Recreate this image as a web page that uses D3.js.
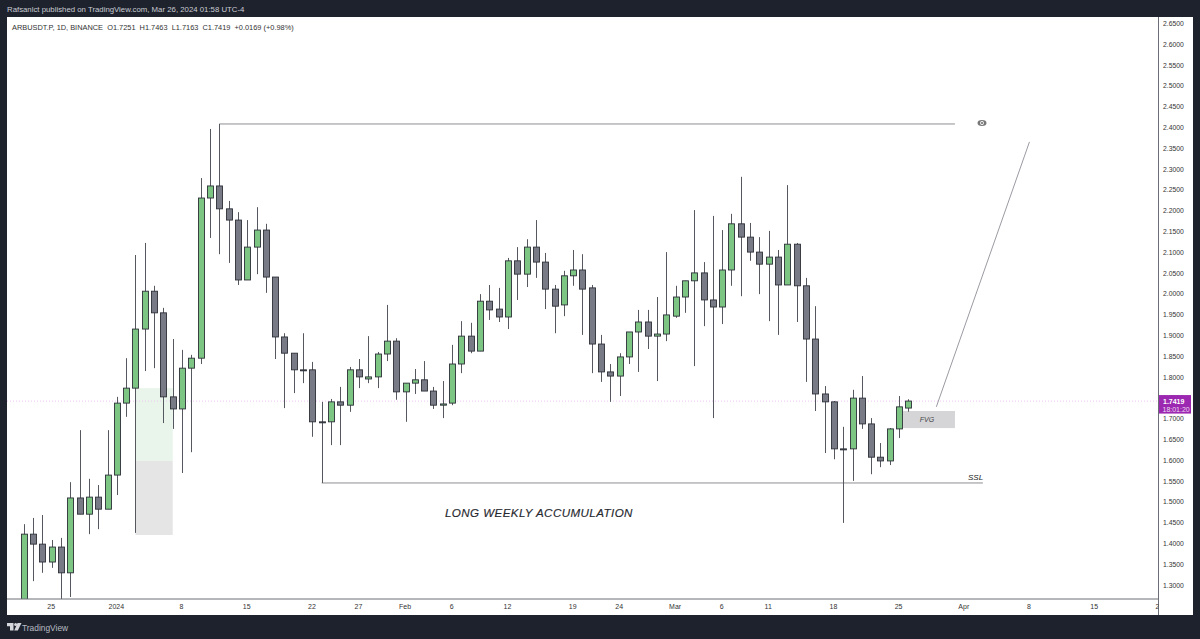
<!DOCTYPE html>
<html><head><meta charset="utf-8">
<script src="https://cdn.jsdelivr.net/npm/d3@7"></script>
<style>html,body{margin:0;padding:0;background:#1e222d;overflow:hidden}svg{display:block}text{font-family:"Liberation Sans",Arial,sans-serif}</style>
</head><body><svg id="c" width="1200" height="639"></svg>
<script>
const firstDay = "2023-12-22";
const opens  = [1.240,1.422,1.398,1.355,1.391,1.329,1.509,1.470,1.511,1.482,1.564,1.737,1.773,1.915,2.006,1.954,1.752,1.723,1.821,1.845,2.230,2.259,2.204,2.177,2.033,2.112,2.153,2.040,1.896,1.857,1.817,1.817,1.692,1.692,1.740,1.732,1.817,1.795,1.800,1.855,1.886,1.764,1.785,1.793,1.766,1.732,1.737,1.831,1.898,1.862,1.982,1.963,1.944,2.079,2.047,2.112,2.076,2.011,1.973,2.043,2.057,2.014,1.879,1.812,1.802,1.848,1.908,1.932,1.898,1.903,1.946,1.992,2.031,2.050,1.985,1.968,2.057,2.168,2.136,2.100,2.071,2.088,2.021,2.119,2.019,1.891,1.759,1.740,1.627,1.627,1.749,1.687,1.607,1.598,1.675,1.7251];
const highs  = [1.446,1.461,1.468,1.408,1.413,1.547,1.672,1.555,1.540,1.672,1.752,1.845,2.093,2.122,2.019,1.966,1.891,1.865,1.853,2.278,2.396,2.408,2.223,2.196,2.177,2.208,2.168,2.040,1.905,1.857,1.905,1.836,1.740,1.747,1.776,1.824,1.843,1.898,1.860,1.973,1.893,1.785,1.819,1.838,1.776,1.790,1.877,1.934,1.930,1.999,2.021,2.014,2.086,2.112,2.131,2.177,2.098,2.021,2.055,2.105,2.095,2.021,1.901,1.831,1.857,1.908,1.961,1.961,1.992,2.100,2.019,2.031,2.201,2.076,2.187,2.153,2.192,2.281,2.170,2.136,2.151,2.105,2.261,2.122,2.038,1.970,1.778,1.742,1.680,1.769,1.802,1.701,1.641,1.677,1.754,1.7463];
const lows   = [1.168,1.309,1.329,1.341,1.240,1.271,1.470,1.422,1.434,1.482,1.516,1.704,1.425,1.814,1.821,1.689,1.675,1.569,1.619,1.831,2.134,2.095,2.074,2.021,2.033,2.047,2.002,1.843,1.725,1.761,1.785,1.656,1.545,1.636,1.636,1.716,1.773,1.785,1.773,1.838,1.745,1.692,1.759,1.766,1.723,1.701,1.732,1.809,1.857,1.862,1.937,1.932,1.915,1.985,2.016,2.038,1.963,1.905,1.946,2.019,1.901,1.809,1.788,1.740,1.754,1.831,1.812,1.867,1.790,1.886,1.942,1.954,1.826,1.922,1.701,1.927,2.019,1.994,2.079,1.999,1.934,1.901,2.021,1.932,1.788,1.718,1.617,1.602,1.449,1.550,1.675,1.566,1.583,1.588,1.653,1.7163];
const closes = [1.422,1.398,1.355,1.391,1.329,1.509,1.470,1.511,1.482,1.564,1.737,1.773,1.915,2.006,1.954,1.752,1.723,1.821,1.845,2.230,2.259,2.204,2.177,2.033,2.112,2.153,2.040,1.896,1.857,1.817,1.817,1.692,1.692,1.740,1.732,1.817,1.800,1.800,1.855,1.886,1.764,1.785,1.793,1.766,1.732,1.735,1.831,1.898,1.862,1.982,1.961,1.944,2.079,2.047,2.112,2.076,2.011,1.970,2.043,2.057,2.011,1.879,1.812,1.802,1.848,1.908,1.932,1.898,1.903,1.949,1.992,2.031,2.050,1.985,1.968,2.057,2.168,2.136,2.100,2.071,2.088,2.021,2.119,2.019,1.891,1.759,1.740,1.627,1.627,1.749,1.687,1.607,1.598,1.675,1.728,1.7419];

const priceTicks = d3.range(27, -1, -1).map(i => 1.30 + i * 0.05);
const timeTicks = [["2023-12-25","25"],["2024-01-01","2024"],["2024-01-08","8"],["2024-01-15","15"],["2024-01-22","22"],["2024-01-27","27"],["2024-02-01","Feb"],["2024-02-06","6"],["2024-02-12","12"],["2024-02-19","19"],["2024-02-24","24"],["2024-03-01","Mar"],["2024-03-06","6"],["2024-03-11","11"],["2024-03-18","18"],["2024-03-25","25"],["2024-04-01","Apr"],["2024-04-08","8"],["2024-04-15","15"],["2024-04-22","22"]];
const headerText = "Rafsanlct published on TradingView.com, Mar 26, 2024 01:58 UTC-4";
const legendText = "ARBUSDT.P, 1D, BINANCE  O1.7251  H1.7463  L1.7163  C1.7419  +0.0169 (+0.98%)";
const lastPrice = 1.7419, countdown = "18:01:20";
const topLine = {from:"2024-01-12", to:"2024-03-31", price:2.408};
const sslLine = {from:"2024-01-23", to:"2024-04-03", price:1.545};
const arrowLine = {from:"2024-03-29", fromP:1.728, to:"2024-04-08", toP:2.365};
const fvgZone = {from:"2024-03-25", to:"2024-03-31", top:1.718, bottom:1.677};
const longBox = {from:"2024-01-03", to:"2024-01-07", top:1.773, mid:1.598, bottom:1.420};

const parse = d3.utcParse("%Y-%m-%d");
const start = parse(firstDay);
const rows = closes.map((c,i)=>({date:d3.utcDay.offset(start,i),o:opens[i],h:highs[i],l:lows[i],c}));

const W=1200,H=639,L=7,R=1193,T=17,B=615,axisX=1158.5,axisY=599;
const x = d3.scaleUtc().domain([start,rows[95].date]).range([23.7,908.4]);
const y = d3.scaleLinear().domain([1.30,2.65]).range([584.9,23.3]);
const svg = d3.select("#c");
svg.append("rect").attr("width",W).attr("height",H).attr("fill","#1e222d");
svg.append("rect").attr("x",L).attr("y",T).attr("width",R-L).attr("height",B-T).attr("fill","#fff");
const defs = svg.append("defs");
defs.append("clipPath").attr("id","pane").append("rect").attr("x",L).attr("y",T).attr("width",axisX-L).attr("height",axisY-T);
defs.append("clipPath").attr("id","tx").append("rect").attr("x",L).attr("y",axisY).attr("width",axisX-L).attr("height",B-axisY);

const pane = svg.append("g").attr("clip-path","url(#pane)");
const xd = s => x(parse(s));

// position tool
pane.append("rect").attr("x",xd(longBox.from)).attr("width",xd(longBox.to)-xd(longBox.from)).attr("y",y(longBox.top)).attr("height",y(longBox.mid)-y(longBox.top)).attr("fill","#e9f5ea");
pane.append("rect").attr("x",xd(longBox.from)).attr("width",xd(longBox.to)-xd(longBox.from)).attr("y",y(longBox.mid)).attr("height",y(longBox.bottom)-y(longBox.mid)).attr("fill","#e5e5e5");
// last price line
pane.append("line").attr("x1",L).attr("x2",axisX).attr("y1",y(lastPrice)).attr("y2",y(lastPrice)).attr("stroke","#eec6f3").attr("stroke-dasharray","1 2");
// FVG
pane.append("rect").attr("x",xd(fvgZone.from)+4).attr("width",xd(fvgZone.to)-xd(fvgZone.from)-4).attr("y",y(fvgZone.top)).attr("height",y(fvgZone.bottom)-y(fvgZone.top)).attr("fill","#d5d5d8");
pane.append("text").attr("x",927).attr("y",y(1.698)+2.5).attr("text-anchor","middle").attr("font-size",7).attr("font-style","italic").attr("fill","#444").text("FVG");
// lines
pane.append("line").attr("x1",xd(topLine.from)).attr("x2",xd(topLine.to)).attr("y1",y(topLine.price)).attr("y2",y(topLine.price)).attr("stroke","#8f8f94");
pane.append("line").attr("x1",xd(sslLine.from)).attr("x2",xd(sslLine.to)).attr("y1",y(sslLine.price)).attr("y2",y(sslLine.price)).attr("stroke","#8f8f94");
pane.append("line").attr("x1",xd(arrowLine.from)).attr("x2",xd(arrowLine.to)).attr("y1",y(arrowLine.fromP)).attr("y2",y(arrowLine.toP)).attr("stroke","#9a9aa2");
// candles
const wickColor="#55585f", border="#2d3038";
const g = pane.selectAll("g.c").data(rows).join("g").attr("class","c");
g.append("line").attr("x1",d=>Math.round(x(d.date))+.5).attr("x2",d=>Math.round(x(d.date))+.5).attr("y1",d=>y(d.h)).attr("y2",d=>y(d.l)).attr("stroke",wickColor);
g.append("rect").attr("x",d=>Math.round(x(d.date))-2.5).attr("width",6)
 .attr("y",d=>y(Math.max(d.o,d.c))).attr("height",d=>Math.max(1,Math.abs(y(d.o)-y(d.c))))
 .attr("fill",d=>d.c>d.o?"#7cc583":"#787b86").attr("stroke",border).attr("stroke-width",.9);
// notes
pane.append("text").attr("x",445).attr("y",517).attr("font-size",11.6).attr("font-style","italic").attr("letter-spacing",.42).attr("fill","#26282e").attr("stroke","#26282e").attr("stroke-width",.15).text("LONG WEEKLY ACCUMULATION");
pane.append("text").attr("x",968).attr("y",479.5).attr("font-size",8).attr("font-style","italic").attr("fill","#222").text("SSL");
const eye = pane.append("g").attr("transform",`translate(982,123)`);
eye.append("ellipse").attr("rx",4.5).attr("ry",3).attr("fill","#777");
eye.append("circle").attr("r",1.9).attr("fill","#fff");
eye.append("circle").attr("r",1).attr("fill","#666");

// axes
svg.append("line").attr("x1",axisX).attr("x2",axisX).attr("y1",T).attr("y2",B).attr("stroke","#6b6e76");
svg.append("line").attr("x1",L).attr("x2",axisX).attr("y1",axisY).attr("y2",axisY).attr("stroke","#6b6e76");
const ya = svg.append("g").attr("transform",`translate(${axisX},0)`).call(d3.axisRight(y).tickValues(priceTicks).tickFormat(d3.format(".4f")).tickSize(0).tickPadding(4.5));
ya.select(".domain").remove();
ya.selectAll("text").attr("font-size",6.8).attr("fill","#333").style("font-family",'"Liberation Sans",Arial,sans-serif');
const label = new Map(timeTicks.map(([d,t])=>[+parse(d),t]));
const xa = svg.append("g").attr("clip-path","url(#tx)").append("g").attr("transform",`translate(0,${axisY})`)
 .call(d3.axisBottom(x).tickValues(timeTicks.map(t=>parse(t[0]))).tickFormat(d=>label.get(+d)).tickSize(0).tickPadding(5));
xa.select(".domain").remove();
xa.selectAll("text").attr("font-size",7).attr("fill","#333").attr("dx",-1).style("font-family",'"Liberation Sans",Arial,sans-serif');

// price tag
svg.append("rect").attr("x",1159).attr("y",y(lastPrice)-6).attr("width",32).attr("height",18.5).attr("fill","#9c27b0");
svg.append("text").attr("x",1163).attr("y",y(lastPrice)+2.5).attr("font-size",7).attr("font-weight","bold").attr("fill","#fff").text(lastPrice.toFixed(4));
svg.append("text").attr("x",1162.5).attr("y",y(lastPrice)+10.5).attr("font-size",7).attr("fill","#eedcf2").text(countdown);

// header etc.
svg.append("text").attr("x",7).attr("y",12).attr("font-size",7.8).attr("fill","#c9ccd3").text(headerText);
svg.append("text").attr("x",12).attr("y",30).attr("font-size",7.4).attr("fill","#333").style("white-space","pre").text(legendText);
const logo = svg.append("g").attr("transform","translate(7,623)").attr("fill","#d5d7dc");
logo.append("path").attr("d","M0 0H6.5V7.5H3V3.2H0Z");
logo.append("circle").attr("cx",8.6).attr("cy",1.6).attr("r",1.5);
logo.append("path").attr("d","M10.5 0H14.5L10.8 7.5H7.2Z");
svg.append("text").attr("x",22).attr("y",630.5).attr("font-size",8.4).attr("fill","#b9bcc4").text("TradingView");
</script></body></html>
